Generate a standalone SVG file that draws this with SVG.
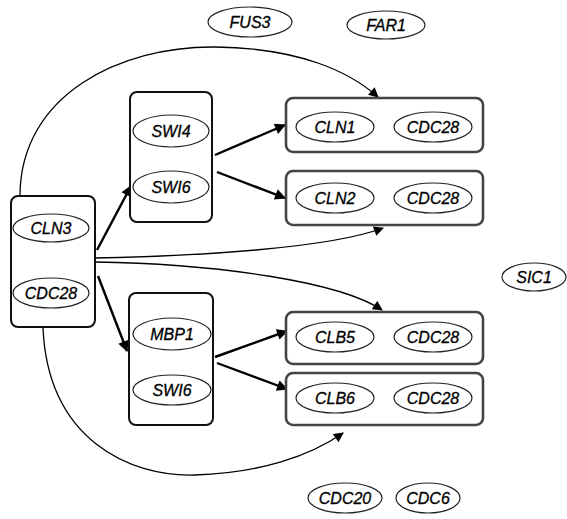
<svg xmlns="http://www.w3.org/2000/svg" width="567" height="519" viewBox="0 0 567 519">
  <style>
    .col { fill: #fff; stroke: #111; stroke-width: 2; }
    .row { fill: #fff; stroke: #444; stroke-width: 2.6; }
    .prot { fill: #fff; stroke: #222; stroke-width: 1.2; }
    .lbl { font-family: "Liberation Sans", Arial, sans-serif; font-style: italic; font-size: 16px; fill: #000; stroke: #000; stroke-width: 0.3; text-anchor: middle; dominant-baseline: central; }
    .curve { fill: none; stroke: #000; stroke-width: 1.3; }
    .bold { fill: none; stroke: #000; stroke-width: 2.4; }
  </style>
  <defs>
    <marker id="ah" viewBox="0 0 10 10" refX="9" refY="5" markerWidth="11" markerHeight="10" markerUnits="userSpaceOnUse" orient="auto">
      <path d="M0,0 L10,5 L0,10 Z" fill="#000"/>
    </marker>
    <marker id="ahb" viewBox="0 0 10 10" refX="9" refY="5" markerWidth="13" markerHeight="11" markerUnits="userSpaceOnUse" orient="auto">
      <path d="M0,0 L10,5 L0,10 Z" fill="#000"/>
    </marker>
  </defs>

  <!-- connectors -->
  <g id="connectors">
    <path class="curve" d="M20,196 C20,95 120,46 215,47 C300,48 350,72 378,97" marker-end="url(#ah)"/>
    <path class="curve" d="M95,258 C200,256 330,248 383,228" marker-end="url(#ah)"/>
    <path class="curve" d="M95,262 C220,264 340,282 382,310" marker-end="url(#ah)"/>
    <path class="curve" d="M43,328 C48,440 130,477 195,475 C260,473 310,456 343,433" marker-end="url(#ah)"/>
    <path class="bold" d="M97,250 L131,186" marker-end="url(#ahb)"/>
    <path class="bold" d="M98,276 L127,351" marker-end="url(#ahb)"/>
    <path class="bold" d="M215,155 L285,125" marker-end="url(#ahb)"/>
    <path class="bold" d="M217,172 L285,198" marker-end="url(#ahb)"/>
    <path class="bold" d="M215,357 L287,331" marker-end="url(#ahb)"/>
    <path class="bold" d="M217,363 L287,389" marker-end="url(#ahb)"/>
  </g>

  <!-- CLN3 / CDC28 complex -->
  <g id="cln3-cdc28">
    <rect class="col" x="11" y="196" width="84" height="131" rx="7"/>
    <ellipse class="prot" cx="51" cy="228" rx="38" ry="14"/>
    <text class="lbl" x="51" y="228">CLN3</text>
    <ellipse class="prot" cx="51" cy="293" rx="38" ry="15"/>
    <text class="lbl" x="51" y="293">CDC28</text>
  </g>

  <!-- SWI4 / SWI6 complex -->
  <g id="swi4-swi6">
    <rect class="col" x="130" y="92" width="82" height="130" rx="7"/>
    <ellipse class="prot" cx="171" cy="131" rx="38" ry="16"/>
    <text class="lbl" x="171" y="131">SWI4</text>
    <ellipse class="prot" cx="171" cy="187" rx="38" ry="16"/>
    <text class="lbl" x="171" y="187">SWI6</text>
  </g>

  <!-- MBP1 / SWI6 complex -->
  <g id="mbp1-swi6">
    <rect class="col" x="129" y="293" width="84" height="132" rx="7"/>
    <ellipse class="prot" cx="172" cy="334" rx="39" ry="16"/>
    <text class="lbl" x="172" y="334">MBP1</text>
    <ellipse class="prot" cx="172" cy="390" rx="39" ry="15"/>
    <text class="lbl" x="172" y="390">SWI6</text>
  </g>

  <!-- CLN1 / CDC28 -->
  <g id="cln1-cdc28">
    <rect class="row" x="286" y="98" width="197" height="54" rx="7"/>
    <ellipse class="prot" cx="335" cy="127" rx="39" ry="15"/>
    <text class="lbl" x="335" y="127">CLN1</text>
    <ellipse class="prot" cx="433" cy="127" rx="39" ry="15"/>
    <text class="lbl" x="433" y="127">CDC28</text>
  </g>

  <!-- CLN2 / CDC28 -->
  <g id="cln2-cdc28">
    <rect class="row" x="286" y="171" width="197" height="54" rx="7"/>
    <ellipse class="prot" cx="335" cy="198" rx="39" ry="15"/>
    <text class="lbl" x="335" y="198">CLN2</text>
    <ellipse class="prot" cx="433" cy="198" rx="39" ry="15"/>
    <text class="lbl" x="433" y="198">CDC28</text>
  </g>

  <!-- CLB5 / CDC28 -->
  <g id="clb5-cdc28">
    <rect class="row" x="286" y="312" width="197" height="52" rx="7"/>
    <ellipse class="prot" cx="335" cy="337" rx="39" ry="15"/>
    <text class="lbl" x="335" y="337">CLB5</text>
    <ellipse class="prot" cx="433" cy="337" rx="39" ry="15"/>
    <text class="lbl" x="433" y="337">CDC28</text>
  </g>

  <!-- CLB6 / CDC28 -->
  <g id="clb6-cdc28">
    <rect class="row" x="286" y="373" width="197" height="52" rx="7"/>
    <ellipse class="prot" cx="335" cy="398" rx="39" ry="15"/>
    <text class="lbl" x="335" y="398">CLB6</text>
    <ellipse class="prot" cx="433" cy="398" rx="39" ry="15"/>
    <text class="lbl" x="433" y="398">CDC28</text>
  </g>

  <!-- standalone proteins -->
  <g id="fus3">
    <ellipse class="prot" cx="250" cy="22" rx="42" ry="15"/>
    <text class="lbl" x="250" y="22">FUS3</text>
  </g>
  <g id="far1">
    <ellipse class="prot" cx="386" cy="25" rx="39" ry="14"/>
    <text class="lbl" x="386" y="25">FAR1</text>
  </g>
  <g id="sic1">
    <ellipse class="prot" cx="534" cy="277" rx="32" ry="14"/>
    <text class="lbl" x="534" y="277">SIC1</text>
  </g>
  <g id="cdc20">
    <ellipse class="prot" cx="345" cy="498" rx="37" ry="15"/>
    <text class="lbl" x="345" y="498">CDC20</text>
  </g>
  <g id="cdc6">
    <ellipse class="prot" cx="428" cy="498" rx="32" ry="15"/>
    <text class="lbl" x="428" y="498">CDC6</text>
  </g>
</svg>
